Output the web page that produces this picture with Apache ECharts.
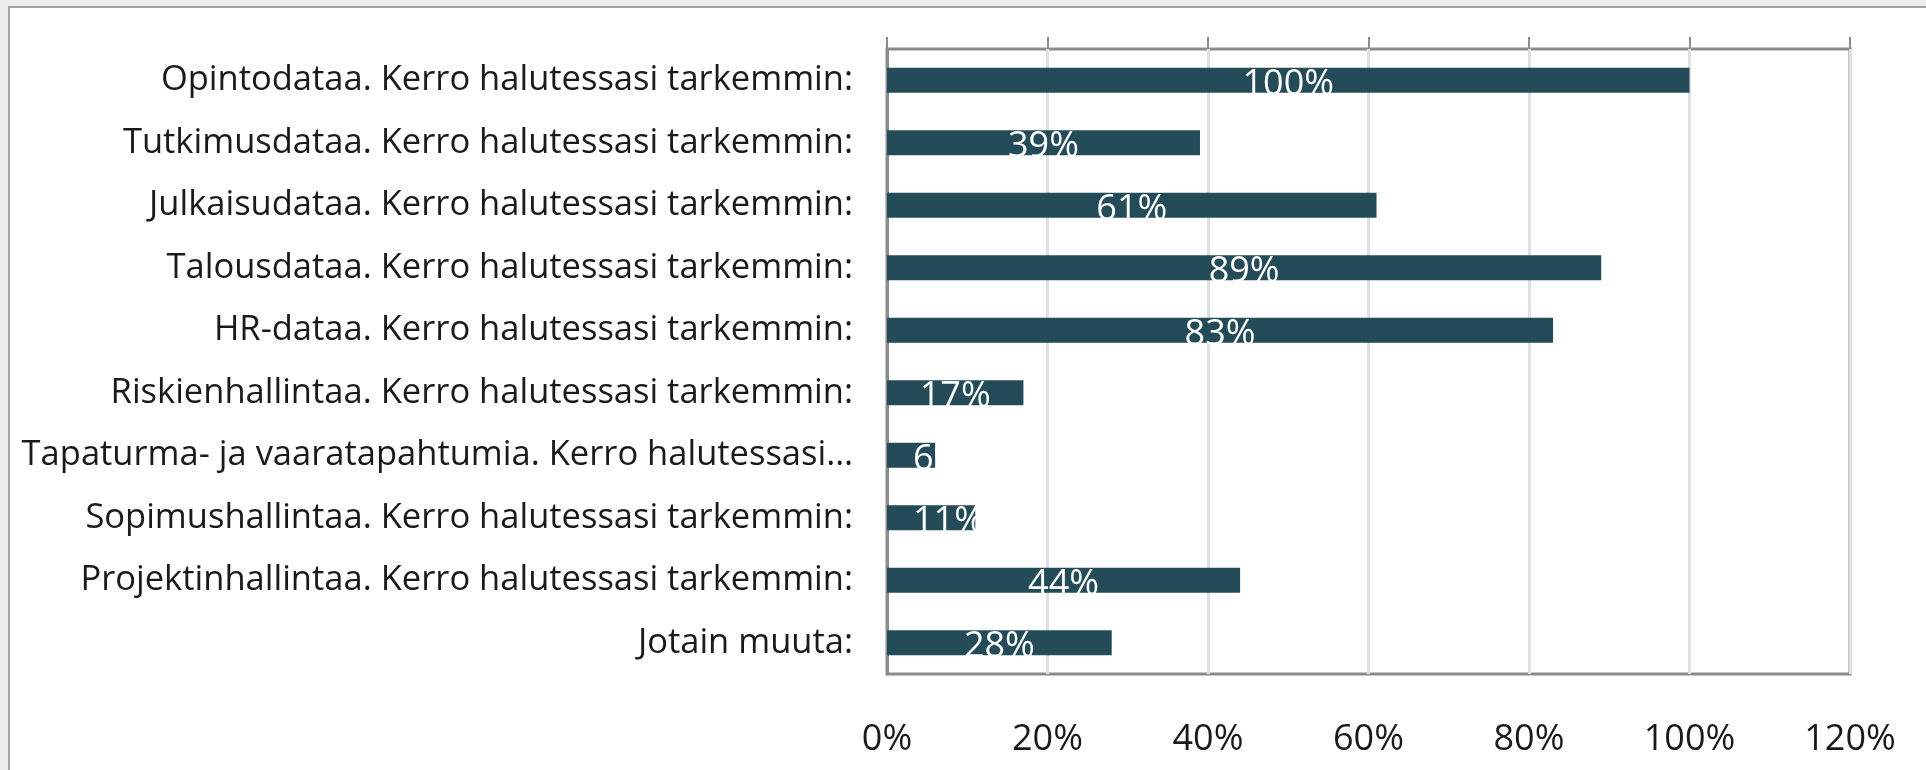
<!DOCTYPE html>
<html>
<head>
<meta charset="utf-8">
<script src="https://cdn.jsdelivr.net/npm/echarts@6/dist/echarts.min.js"></script>
<style>
  html, body { margin: 0; padding: 0; background: #eeeeee; overflow: hidden; }
  #frame { position: absolute; left: 8px; top: 6px; width: 1940px; height: 790px;
           background: #fff; border: 2px solid #a3a3a3; }
  #main { position: absolute; left: 0; top: 0; width: 1926px; height: 770px; }
</style>
</head>
<body>
<div id="frame"></div>
<div id="main"></div>
<script>
// kategoriat ylhäältä alas
var categories = [
  'Opintodataa. Kerro halutessasi tarkemmin:',
  'Tutkimusdataa. Kerro halutessasi tarkemmin:',
  'Julkaisudataa. Kerro halutessasi tarkemmin:',
  'Talousdataa. Kerro halutessasi tarkemmin:',
  'HR-dataa. Kerro halutessasi tarkemmin:',
  'Riskienhallintaa. Kerro halutessasi tarkemmin:',
  'Tapaturma- ja vaaratapahtumia. Kerro halutessasi…',
  'Sopimushallintaa. Kerro halutessasi tarkemmin:',
  'Projektinhallintaa. Kerro halutessasi tarkemmin:',
  'Jotain muuta:'
];
var values = [100, 39, 61, 89, 83, 17, 6, 11, 44, 28];
var tickLabels = ['0%', '20%', '40%', '60%', '80%', '100%', '120%'];

var myChart = echarts.init(document.getElementById('main'));
var axisGray = '#8c8c8c';

// lyhyillä palkeilla Excel siirtää tekstiä oikealle
var barData = values.map(function (v) {
  if (v < 15) {
    return { value: v, label: { position: 'insideLeft', distance: 26 } };
  }
  return v;
});

var option = {
  animation: false,
  grid: {
    left: 887, right: 76, top: 49, bottom: 96,
    show: true, borderColor: axisGray, borderWidth: 3
  },
  xAxis: [{
    type: 'value', min: 0, max: 120, interval: 20,
    axisLine: { show: false },
    axisTick: { show: false },
    splitLine: { lineStyle: { color: '#e0e0e0', width: 3 } },
    axisLabel: {
      margin: 48,
      fontFamily: 'Open Sans', fontSize: 36, color: '#1a1a1a',
      formatter: function (v) { return tickLabels[v / 20]; }
    }
  }, {
    type: 'value', min: 0, max: 120, interval: 20, position: 'top',
    axisLine: { show: false },
    axisTick: { show: true, length: 12, lineStyle: { color: axisGray, width: 2 } },
    splitLine: { show: false },
    axisLabel: { show: false }
  }],
  yAxis: {
    type: 'category', data: categories, inverse: true,
    axisLine: { lineStyle: { color: axisGray, width: 3 } },
    axisTick: { length: 12, lineStyle: { color: axisGray, width: 2 } },
    axisLabel: {
      margin: 34,
      fontFamily: 'Open Sans', fontSize: 34.5, color: '#1a1a1a'
    }
  },
  series: [{
    type: 'bar',
    data: barData,
    barCategoryGap: '60%',
    itemStyle: { color: '#234b58' },
    label: {
      show: true, position: 'inside', offset: [0, 4],
      color: '#ffffff', fontFamily: 'Open Sans', fontSize: 36,
      formatter: '{c}%'
    }
  }]
};
myChart.setOption(option);
</script>
</body>
</html>
